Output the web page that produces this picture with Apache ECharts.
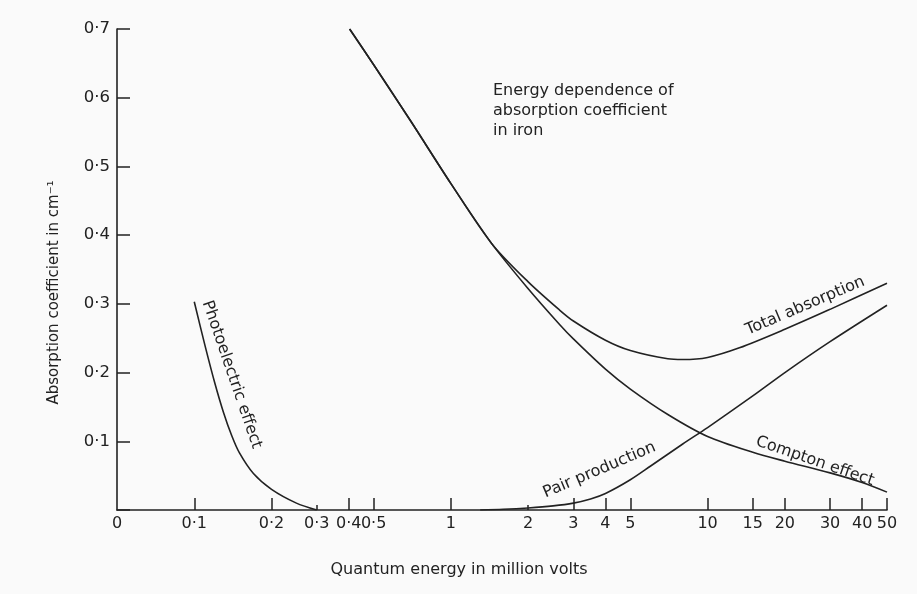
<!DOCTYPE html>
<html>
<head>
<meta charset="utf-8">
<script src="https://cdn.jsdelivr.net/npm/echarts@6/dist/echarts.min.js"></script>
<style>
  html, body { margin: 0; padding: 0; background: #fafafa; }
  #main { width: 917px; height: 594px; }
</style>
</head>
<body>
<div id="main"></div>
<script>
// x axis ticks (million volts); "0" sits at the left corner of the axis
var xTickValues = [0.05, 0.1, 0.2, 0.3, 0.4, 0.5, 1, 2, 3, 4, 5, 10, 15, 20, 30, 40, 50];
var xTickLabels = ['0', '0·1', '0·2', '0·3', '0·4', '0·5', '1', '2', '3', '4', '5', '10', '15', '20', '30', '40', '50'];
var xShortTicks = [0.3, 2];

// curves: energy (MeV) and coefficient (cm^-1)
var photoEnergy = [0.1, 0.11, 0.12, 0.13, 0.14, 0.15, 0.17, 0.2, 0.25, 0.3];
var photoValues = [0.303, 0.240, 0.186, 0.142, 0.108, 0.083, 0.053, 0.030, 0.010, 0];

var comptonEnergy = [0.403, 0.5, 0.7, 1.0, 1.44, 2, 2.65, 3, 4, 5, 7, 10, 15, 20, 30, 40, 50];
var comptonValues = [0.70, 0.648, 0.565, 0.475, 0.388, 0.322, 0.270, 0.249, 0.205, 0.176, 0.139, 0.107, 0.084, 0.071, 0.054, 0.040, 0.026];

var totalEnergy = [0.403, 0.5, 0.7, 1.0, 1.44, 2, 2.65, 3, 4, 5, 7, 8, 10, 13.3, 20, 30, 50];
var totalValues = [0.70, 0.648, 0.565, 0.475, 0.388, 0.332, 0.291, 0.275, 0.247, 0.232, 0.220, 0.219, 0.222, 0.236, 0.263, 0.292, 0.330];

var pairEnergy = [1.3, 1.6, 2, 2.5, 3, 3.5, 4, 5, 6, 8, 10, 15, 20, 30, 50];
var pairValues = [0, 0.001, 0.003, 0.006, 0.010, 0.016, 0.024, 0.044, 0.064, 0.096, 0.120, 0.166, 0.200, 0.245, 0.298];

var FONT = 'DejaVu Sans';
var INK = '#222';

function lg(v) { return Math.log10(v); }

function toPoints(es, vs) {
	return es.map(function (e, i) { return [lg(e), vs[i]]; });
}

function curveLabel(text, e, v, rot) {
	return {
		coord: [lg(e), v],
		symbol: 'circle',
		symbolSize: 0,
		label: {
			show: true,
			position: 'inside',
			rotate: rot,
			formatter: text,
			color: INK,
			fontFamily: FONT,
			fontSize: 16
		}
	};
}

function lineSeries(name, es, vs, labels) {
	return {
		name: name,
		type: 'line',
		data: toPoints(es, vs),
		smooth: 0.3,
		showSymbol: false,
		silent: true,
		lineStyle: { color: INK, width: 1.6 },
		markPoint: { silent: true, data: labels }
	};
}

var myChart = echarts.init(document.getElementById('main'));

var option = {
	backgroundColor: '#fafafa',
	animation: false,
	title: {
		text: 'Energy dependence of\nabsorption coefficient\nin iron',
		left: 493,
		top: 81,
		padding: 0,
		textStyle: {
			color: INK,
			fontFamily: FONT,
			fontSize: 16,
			fontWeight: 'normal',
			lineHeight: 20
		}
	},
	grid: {
		left: 117,
		right: 30,
		top: 29,
		bottom: 84,
		containLabel: false,
		outerBoundsMode: 'none'
	},
	xAxis: [{
		type: 'value',
		min: lg(0.05),
		max: lg(50),
		name: 'Quantum energy in million volts',
		nameLocation: 'middle',
		nameGap: 52,
		nameTextStyle: {
			color: INK,
			fontFamily: FONT,
			fontSize: 16,
			padding: [0, 86, 0, 0]
		},
		axisLine: { onZero: false, lineStyle: { color: INK, width: 1.6 } },
		axisTick: {
			inside: true,
			length: 12,
			lineStyle: { color: INK, width: 1.5 },
			customValues: xTickValues.filter(function (v) {
				return v !== 0.05 && xShortTicks.indexOf(v) < 0;
			}).map(lg)
		},
		axisLabel: {
			color: INK,
			fontFamily: FONT,
			fontSize: 16,
			margin: 6,
			customValues: xTickValues.map(lg),
			formatter: function (v) {
				for (var i = 0; i < xTickValues.length; i++) {
					if (Math.abs(lg(xTickValues[i]) - v) < 1e-6) return xTickLabels[i];
				}
				return '';
			}
		},
		splitLine: { show: false }
	}, {
		// short ticks at 0.3 and 2
		type: 'value',
		position: 'bottom',
		min: lg(0.05),
		max: lg(50),
		axisLine: { show: false, onZero: false },
		axisLabel: { show: false },
		axisTick: {
			inside: true,
			length: 5,
			lineStyle: { color: INK, width: 1.5 },
			customValues: xShortTicks.map(lg)
		},
		splitLine: { show: false }
	}],
	yAxis: {
		type: 'value',
		min: 0,
		max: 0.7,
		interval: 0.1,
		name: 'Absorption coefficient in cm⁻¹',
		nameLocation: 'middle',
		nameGap: 55,
		nameTextStyle: {
			color: INK,
			fontFamily: FONT,
			fontSize: 15,
			padding: [0, 46, 0, 0]
		},
		axisLine: { show: true, onZero: false, lineStyle: { color: INK, width: 1.6 } },
		axisTick: {
			show: true,
			inside: true,
			length: 13,
			lineStyle: { color: INK, width: 1.5 }
		},
		axisLabel: {
			color: INK,
			fontFamily: FONT,
			fontSize: 16.5,
			margin: 7,
			formatter: function (v) {
				if (v === 0) return '';
				return v.toFixed(1).replace('.', '·');
			}
		},
		splitLine: { show: false }
	},
	series: [
		lineSeries('Photoelectric effect', photoEnergy, photoValues, [
			curveLabel('Photoelectric effect', 0.140, 0.197, -71)
		]),
		lineSeries('Compton effect', comptonEnergy, comptonValues, [
			curveLabel('Compton effect', 26.2, 0.071, -19)
		]),
		lineSeries('Total absorption', totalEnergy, totalValues, [
			curveLabel('Total absorption', 24.0, 0.297, 23)
		]),
		lineSeries('Pair production', pairEnergy, pairValues, [
			curveLabel('Pair production', 3.79, 0.058, 23)
		])
	]
};

myChart.setOption(option);
</script>
</body>
</html>
